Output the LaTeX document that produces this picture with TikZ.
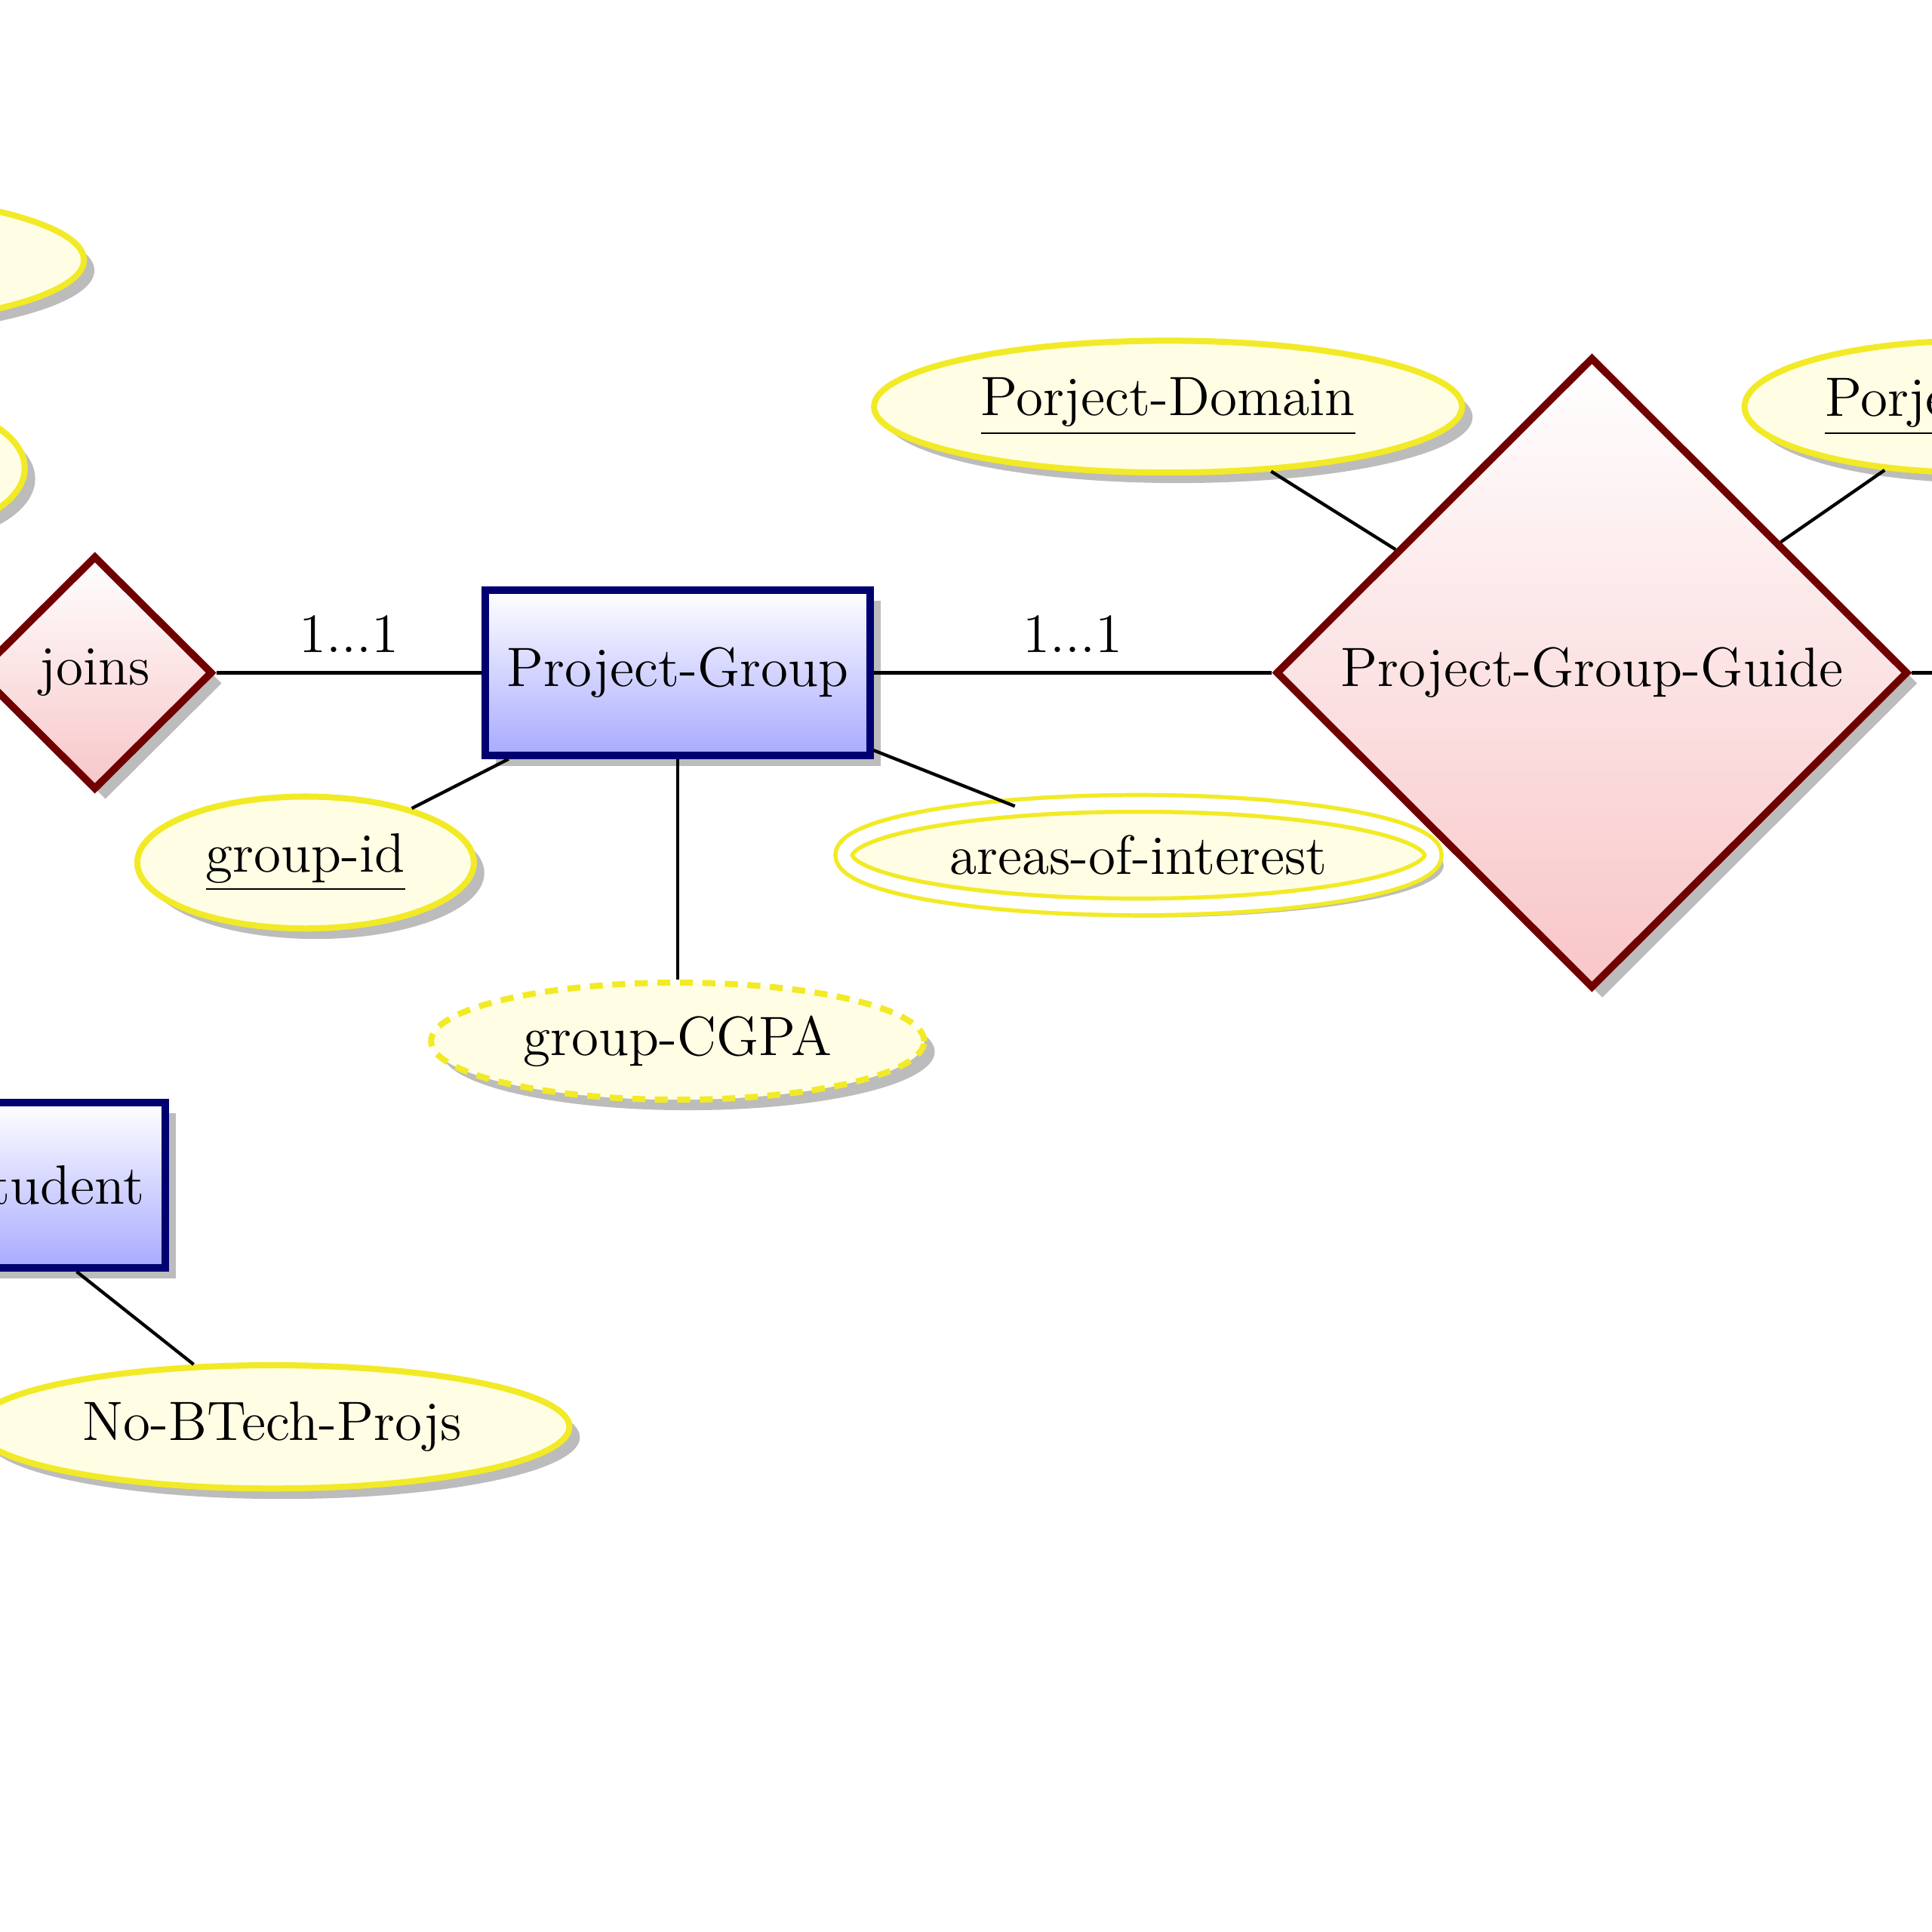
\documentclass[tikz,border=0pt]{standalone}
\usetikzlibrary{shapes.geometric,shadows}
\definecolor{ybord}{RGB}{242,234,38}
\definecolor{yfill}{RGB}{255,254,228}
\definecolor{navyb}{RGB}{0,0,112}
\definecolor{boxbot}{RGB}{168,170,255}
\definecolor{dred}{RGB}{112,0,0}
\definecolor{pinkbot}{RGB}{248,198,200}
\definecolor{shdc}{RGB}{188,188,188}
\begin{document}
\begin{tikzpicture}[x=0.01cm,y=-0.01cm,
  font=\fontsize{12.8}{15}\selectfont,
  shd/.style={drop shadow={shadow xshift=0.085cm,shadow yshift=-0.085cm,fill=shdc,opacity=1}},
  entity/.style={rectangle,draw=navyb,line width=1.7pt,top color=white,bottom color=boxbot,minimum height=1.34cm,inner sep=0pt,shd},
  rel/.style={diamond,aspect=1,draw=dred,line width=1.7pt,top color=white,bottom color=pinkbot,inner sep=0pt,shd},
  attr/.style={ellipse,draw=ybord,line width=1.4pt,fill=yfill,inner sep=0pt,shd},
  mattr/.style={attr,line width=0.95pt,double=white,double distance=2.9pt},
  dattr/.style={attr,dash pattern=on 3pt off 2.2pt},
  conn/.style={draw=black,line width=0.75pt}
]
\clip (0,0) rectangle (1568,1568);
\fill[white] (0,0) rectangle (1568,1568);

% attributes off to the left
\node[attr,minimum width=4.6cm,minimum height=1.1cm] (e1) at (-162,211) {};
\node[attr,minimum width=2.2cm,minimum height=1.1cm] (e2) at (-90,380) {};

% entities
\node[entity,minimum width=3.12cm] (pg) at (550,546) {Project-Group};
\node[entity,text width=2.86cm,align=right,inner xsep=0.17cm] (stu) at (-26,962) {Student};

% relationships
\node[rel,minimum width=1.91cm,minimum height=1.9cm] (joins) at (77,546) {joins};
\node[rel,minimum width=5.13cm,minimum height=5.12cm] (pgg) at (1292,546) {Project-Group-Guide};

% attributes
\node[attr,minimum width=4.77cm,minimum height=1.07cm] (pd) at (948,330) {\underline{Porject-Domain}};
\node[attr,minimum width=3.76cm,minimum height=1.07cm] (pt) at (1604,330) {\underline{Porject-Title}};
\node[attr,minimum width=2.73cm,minimum height=1.07cm] (gid) at (248,700) {\underline{group-id}};
\node[dattr,minimum width=4.0cm,minimum height=0.95cm] (cgpa) at (550,845) {group-CGPA};
\node[mattr,minimum width=4.78cm,minimum height=0.84cm] (aoi) at (924,694) {areas-of-interest};
\node[attr,minimum width=4.82cm,minimum height=1.0cm] (nb) at (221,1158) {No-BTech-Projs};

\coordinate (offR) at (1700,546);

% connectors
\draw[conn] (joins) -- node[above=1pt] (c1) {1...1} (pg);
\draw[conn] (pg) -- node[above=1pt] (c2) {1...1} (pgg);
\draw[conn] (pgg) -- (offR);
\draw[conn] (pd) -- (pgg);
\draw[conn] (pt) -- (pgg);
\draw[conn] (pg) -- (gid);
\draw[conn] (pg) -- (cgpa);
\draw[conn] (pg) -- (aoi);
\draw[conn] (stu) -- (nb);
\end{tikzpicture}
\end{document}
